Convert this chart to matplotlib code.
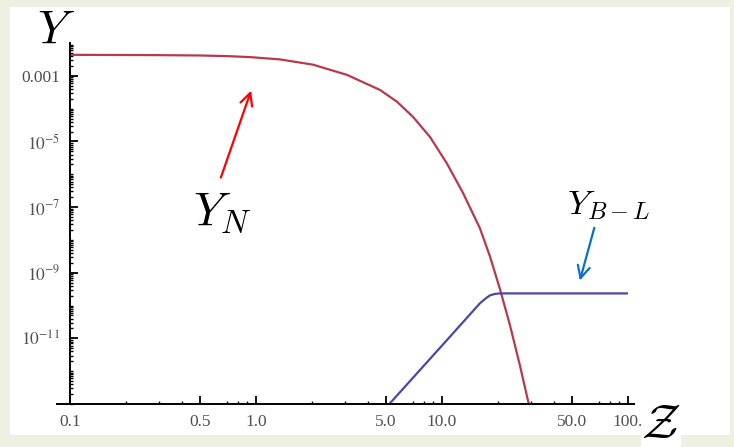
import numpy as np
import matplotlib
matplotlib.use("Agg")
import matplotlib.pyplot as plt
from matplotlib.patches import Rectangle
from matplotlib.ticker import FixedLocator, NullFormatter

plt.rcParams['mathtext.fontset'] = 'cm'

# Y_N (red), log10 of the abundance
zN = [0.1, 0.3, 0.5, 0.7, 0.93, 1.346, 2.025, 3.08, 4.64, 5.73, 6.98, 8.61,
      10.6, 12.97, 16.0, 18.1, 20.5, 23.2, 26.3, 29.0, 29.6]
logYN = [-2.36, -2.37, -2.38, -2.40, -2.43, -2.50, -2.66, -2.97, -3.43, -3.79,
         -4.25, -4.86, -5.66, -6.57, -7.65, -8.50, -9.50, -10.60, -11.85,
         -12.90, -13.10]

# Y_{B-L} (blue)
zBL = [5.25, 10.6, 16.0, 17.2, 18.1, 19.3, 20.5, 40.0, 100.0]
logYBL = [-12.98, -11.06, -9.93, -9.78, -9.69, -9.645, -9.63, -9.63, -9.63]

xticks = [0.1, 0.5, 1.0, 5.0, 10.0, 50.0, 100.0]
xticklabels = ['0.1', '0.5', '1.0', '5.0', '10.0', '50.0', '100.']
xminor = [0.2, 0.3, 0.4, 0.7, 0.8, 0.9, 2, 3, 4, 7, 8, 9, 20, 30, 40, 70, 80, 90]
yticks = [1e-11, 1e-9, 1e-7, 1e-5, 1e-3]
yticklabels = ['$10^{-11}$', '$10^{-9}$', '$10^{-7}$', '$10^{-5}$', '0.001']

W, H = 734, 447
fig = plt.figure(figsize=(W / 100, H / 100), dpi=100, facecolor='#eef1e1')
fig.patches.append(Rectangle((10 / W, 1 - 435 / H), 720 / W, 428 / H,
                             transform=fig.transFigure, facecolor='white',
                             edgecolor='none', zorder=-1))

ax = fig.add_axes([70 / W, 43 / H, 558 / W, 361 / H])
ax.set_zorder(1)
ax.patch.set_alpha(0)
ax.set_xscale('log')
ax.set_yscale('log')
ax.set_xlim(0.1, 100)
ax.set_ylim(1e-13, 1e-2)

ax.plot(zN, 10.0 ** np.array(logYN), color='#b8384c', lw=1.6)
ax.plot(zBL, 10.0 ** np.array(logYBL), color='#4848a8', lw=1.6)

for s in ['top', 'right']:
    ax.spines[s].set_visible(False)
for s in ['left', 'bottom']:
    ax.spines[s].set_linewidth(1.4)
ax.spines['bottom'].set_bounds(0.085, 108)

ax.xaxis.set_major_locator(FixedLocator(xticks))
ax.xaxis.set_minor_locator(FixedLocator(xminor))
ax.xaxis.set_minor_formatter(NullFormatter())
ax.set_xticklabels(xticklabels)
ymin = [m * 10.0 ** e for e in range(-13, -2) for m in range(1, 10)]
ymin = [v for v in ymin if v not in yticks and v <= 1e-2]
ax.yaxis.set_major_locator(FixedLocator(yticks))
ax.yaxis.set_minor_locator(FixedLocator(ymin))
ax.yaxis.set_minor_formatter(NullFormatter())
ax.set_yticklabels(yticklabels)

ax.tick_params(which='major', direction='in', length=6, width=1.3,
               labelsize=12.5, labelcolor='#505050', pad=7)
ax.tick_params(which='minor', direction='in', length=2.5, width=1.0)
for lab in ax.get_xticklabels() + ax.get_yticklabels():
    lab.set_family('Liberation Serif')
    lab.set_math_fontfamily('stix')

# annotations
ax.annotate('', xy=(0.952, 10 ** -3.37), xytext=(0.64, 10 ** -6.18),
            arrowprops=dict(arrowstyle='->', color='red', lw=1.6,
                            mutation_scale=22))
ax.text(0.656, 10 ** -7.15, '$Y_N$', fontsize=34, ha='center', va='center')
ax.annotate('', xy=(54.6, 10 ** -9.32), xytext=(66.5, 10 ** -7.55),
            arrowprops=dict(arrowstyle='->', color='#0a6fc8', lw=1.6,
                            mutation_scale=22))
ax.text(79, 10 ** -6.94, '$Y_{B-L}$', fontsize=25, ha='center', va='center')

fig.text(56 / W, 1 - 30 / H, '$Y$', fontsize=34, ha='center', va='center')
fig.text(661 / W, 1 - 424 / H, r'$\mathcal{Z}$', fontsize=35, ha='center',
         va='center', bbox=dict(facecolor='white', edgecolor='none', pad=0))

fig.savefig('out.png', dpi=100, facecolor=fig.get_facecolor())
